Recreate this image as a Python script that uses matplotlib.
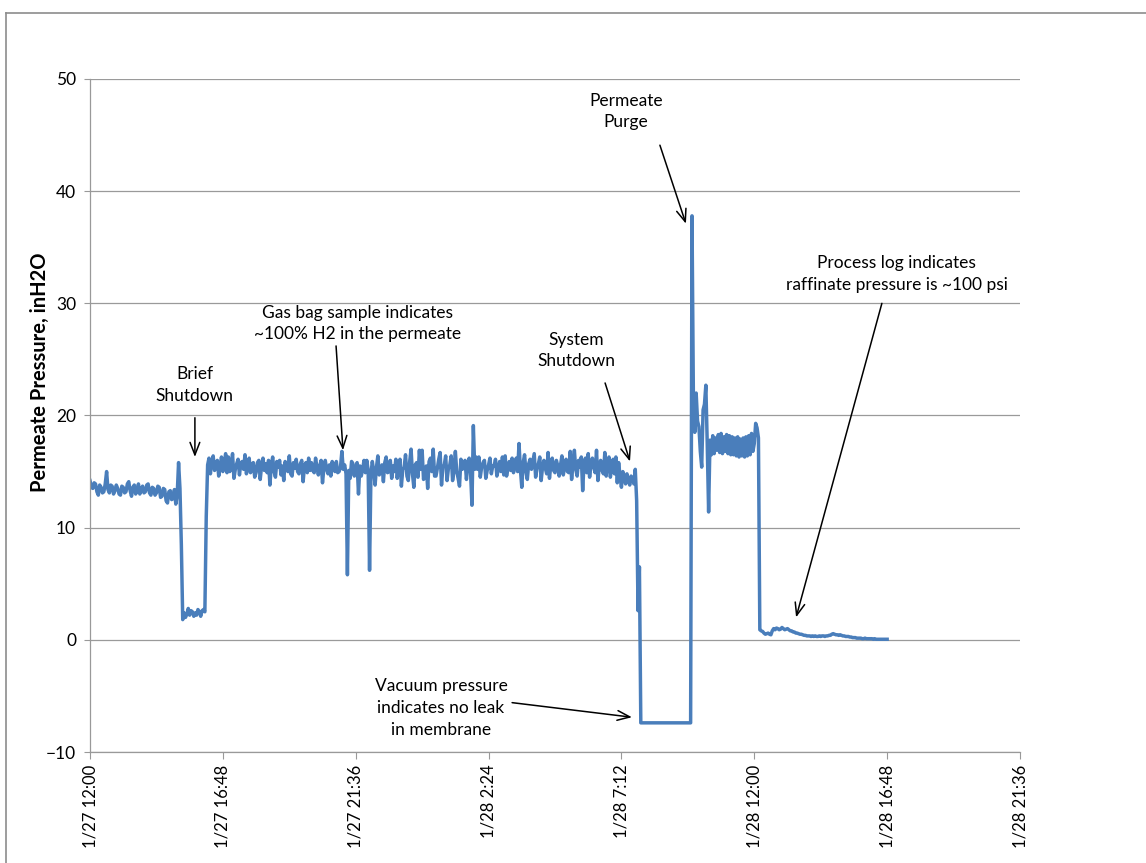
import matplotlib
matplotlib.use("Agg")
import matplotlib.pyplot as plt
from matplotlib.lines import Line2D
import pandas as pd

# permeate pressure (inH2O) logged every 3 minutes from 1/27 12:00, one row per hour
p_h00 = [14.2, 13.6, 13.5, 14.0, 13.9, 13.2, 12.9, 13.8, 13.6, 13.1, 13.2, 13.9, 15.0, 13.4, 13.1, 13.8, 13.7, 13.0, 13.3, 13.8]
p_h01 = [13.5, 13.0, 12.9, 13.7, 13.6, 13.1, 13.2, 13.9, 14.1, 13.3, 12.8, 13.6, 13.8, 13.0, 13.3, 13.9, 13.0, 13.4, 13.7, 13.1]
p_h02 = [13.2, 13.8, 13.9, 13.1, 12.9, 13.6, 13.5, 12.9, 13.1, 13.7, 13.6, 12.7, 12.8, 13.5, 13.4, 12.4, 12.2, 13.2, 13.3, 12.5]
p_h03 = [12.6, 13.4, 12.1, 12.9, 15.8, 13.5, 8.5, 1.8, 2.4, 2.0, 2.3, 2.8, 2.2, 2.6, 2.5, 2.1, 2.4, 2.2, 2.7, 2.5]
p_h04 = [2.1, 2.6, 2.7, 2.5, 11.0, 15.6, 16.2, 14.8, 15.9, 16.4, 15.1, 15.6, 16.0, 14.6, 15.4, 16.3, 15.0, 15.7, 16.6, 14.9]
p_h05 = [16.3, 15.0, 15.5, 16.6, 14.4, 15.2, 15.7, 16.1, 14.7, 15.8, 15.9, 15.2, 16.5, 14.8, 15.3, 16.2, 14.9, 15.6, 15.8, 14.5]
p_h06 = [14.9, 15.8, 16.0, 14.3, 15.5, 16.2, 15.1, 15.7, 14.9, 16.0, 13.8, 15.6, 16.3, 15.0, 14.5, 15.9, 15.4, 16.0, 14.7, 15.5]
p_h07 = [14.2, 15.9, 15.3, 15.0, 16.4, 14.8, 14.6, 15.8, 15.3, 16.1, 15.0, 14.8, 15.7, 16.0, 14.1, 15.5, 15.8, 14.9, 16.2, 15.1]
p_h08 = [15.8, 15.1, 14.9, 16.2, 15.4, 14.7, 15.5, 16.0, 14.0, 15.3, 16.0, 15.2, 14.8, 15.6, 14.6, 15.9, 15.3, 15.0, 15.9, 14.9]
p_h09 = [15.0, 15.4, 16.8, 15.2, 15.6, 14.8, 5.8, 15.1, 14.4, 15.9, 15.7, 14.6, 15.3, 15.8, 13.0, 15.5, 14.6, 15.2, 16.0, 14.9]
p_h10 = [16.0, 15.1, 6.2, 14.8, 15.9, 15.0, 13.8, 15.4, 16.4, 14.7, 15.1, 15.6, 14.1, 15.8, 16.3, 14.9, 15.0, 16.0, 14.4, 15.5]
p_h11 = [15.0, 16.1, 14.4, 15.5, 16.1, 13.7, 15.2, 15.4, 16.5, 14.6, 14.2, 15.9, 17.0, 14.8, 13.6, 15.6, 15.8, 14.5, 16.9, 15.2]
p_h12 = [16.9, 14.3, 14.8, 15.5, 13.5, 15.9, 16.2, 15.0, 17.0, 14.6, 14.6, 15.3, 16.1, 16.7, 13.8, 15.4, 15.6, 16.4, 14.2, 15.3]
p_h13 = [15.6, 16.4, 14.2, 15.1, 16.8, 15.0, 14.4, 13.7, 16.1, 15.2, 15.4, 16.0, 14.3, 15.6, 16.2, 14.9, 12.0, 19.1, 15.2, 16.3]
p_h14 = [15.2, 16.3, 14.5, 15.4, 15.8, 16.0, 14.4, 15.1, 15.6, 16.2, 14.8, 15.5, 15.5, 16.1, 14.6, 15.2, 15.9, 15.0, 16.3, 14.7]
p_h15 = [16.4, 14.6, 15.3, 15.9, 15.1, 16.2, 14.9, 15.6, 16.2, 15.0, 17.5, 15.2, 13.6, 15.8, 16.5, 15.0, 14.3, 15.7, 16.1, 15.2]
p_h16 = [15.9, 16.6, 14.5, 15.3, 15.7, 16.3, 14.2, 15.4, 16.0, 15.3, 14.8, 16.7, 14.4, 15.6, 16.2, 15.1, 14.9, 16.0, 15.5, 14.6]
p_h17 = [15.6, 16.4, 14.7, 15.5, 16.1, 15.0, 14.9, 16.8, 14.3, 15.7, 16.9, 15.2, 14.6, 16.0, 15.4, 16.3, 13.3, 15.8, 16.2, 14.9]
p_h18 = [16.6, 14.5, 15.6, 16.2, 15.4, 14.9, 16.9, 14.2, 15.5, 16.0, 15.1, 14.8, 16.7, 14.6, 15.7, 16.3, 14.5, 15.4, 16.1, 14.8]
p_h19 = [16.3, 14.0, 15.8, 14.6, 13.6, 15.0, 14.6, 13.9, 14.8, 14.2, 13.8, 14.6, 14.4, 13.9, 15.2, 12.4, 2.6, 6.5, -7.4, -7.4]
p_h20 = [-7.4, -7.4, -7.4, -7.4, -7.4, -7.4, -7.4, -7.4, -7.4, -7.4, -7.4, -7.4, -7.4, -7.4, -7.4, -7.4, -7.4, -7.4, -7.4, -7.4]
p_h21 = [-7.4, -7.4, -7.4, -7.4, -7.4, -7.4, -7.4, -7.4, -7.4, -7.4, -7.4, -7.4, -7.4, -7.4, -7.4, 37.8, 21.5, 18.5, 22.0, 19.5]
p_h22 = [19.0, 16.8, 15.4, 20.5, 21.0, 22.7, 17.5, 11.4, 17.8, 16.5, 18.2, 16.6, 18.0, 16.9, 18.3, 16.7, 18.4, 16.6, 18.1, 16.8]
p_h23 = [18.3, 16.6, 18.2, 16.5, 18.1, 16.5, 18.0, 16.4, 18.1, 16.3, 17.9, 16.4, 18.0, 16.3, 18.1, 16.4, 18.2, 16.5, 18.4, 16.8]
p_h24 = [17.5, 19.3, 18.9, 18.0, 0.9, 0.8, 0.75, 0.6, 0.5, 0.55, 0.6, 0.5, 0.45, 0.8, 1.0, 0.9, 1.05, 1.0, 0.9, 0.95]
p_h25 = [1.1, 1.0, 0.9, 0.95, 1.0, 0.9, 0.8, 0.8, 0.7, 0.7, 0.6, 0.6, 0.55, 0.5, 0.5, 0.45, 0.4, 0.4, 0.35, 0.35]
p_h26 = [0.35, 0.3, 0.35, 0.3, 0.35, 0.3, 0.3, 0.35, 0.3, 0.35, 0.35, 0.3, 0.35, 0.35, 0.4, 0.4, 0.5, 0.55, 0.5, 0.45]
p_h27 = [0.45, 0.4, 0.45, 0.4, 0.35, 0.35, 0.3, 0.3, 0.3, 0.25, 0.25, 0.2, 0.2, 0.2, 0.15, 0.15, 0.15, 0.15, 0.1, 0.1]
p_h28 = [0.15, 0.1, 0.1, 0.1, 0.1, 0.1, 0.05, 0.1, 0.05, 0.05, 0.05, 0.05, 0.05, 0.05, 0.05, 0.05, 0.05]

hours = [p_h00, p_h01, p_h02, p_h03, p_h04, p_h05, p_h06, p_h07, p_h08, p_h09,
         p_h10, p_h11, p_h12, p_h13, p_h14, p_h15, p_h16, p_h17, p_h18, p_h19,
         p_h20, p_h21, p_h22, p_h23, p_h24, p_h25, p_h26, p_h27, p_h28]
assert all(len(h) == 20 for h in hours[:-1])
pressure = [v for h in hours for v in h]

start = pd.Timestamp("2014-01-27 12:00")
times = pd.date_range(start, periods=len(pressure), freq="3min")
xticks = pd.date_range(start, "2014-01-28 21:36", freq="288min")
yticks = [-10, 0, 10, 20, 30, 40, 50]

# (label, text pos, arrow tail, arrow head) as (hours after start, inH2O)
notes = [
    ("Brief\nShutdown", (3.79, 22.7), (3.79, 19.8), (3.79, 16.3)),
    ("Gas bag sample indicates\n~100% H2 in the permeate", (9.68, 28.2), (8.89, 26.2), (9.14, 16.9)),
    ("System\nShutdown", (17.56, 25.8), (18.61, 22.9), (19.51, 15.9)),
    ("Permeate\nPurge", (19.36, 47.1), (20.59, 44.1), (21.53, 37.1)),
    ("Process log indicates\nraffinate pressure is ~100 psi", (29.15, 32.6), (28.61, 30.0), (25.51, 2.0)),
    ("Vacuum pressure\nindicates no leak\nin membrane", (12.68, -6.1), (15.25, -5.6), (19.58, -6.9)),
]

plt.rcParams["font.family"] = ["Lato", "DejaVu Sans"]

fig = plt.figure(figsize=(11.46, 8.63), dpi=100)
ax = fig.add_axes([90 / 1146, 1 - 752 / 863, 930 / 1146, 673 / 863])

ax.plot(times, pressure, color="#4A7EBB", lw=2.5, solid_joinstyle="round")

ax.set_xlim(xticks[0], xticks[-1])
ax.set_ylim(-10, 50)
ax.set_yticks(yticks)
ax.set_xticks(xticks)
ax.set_xticklabels([f"{d.month}/{d.day} {d.hour}:{d.minute:02d}" for d in xticks],
                   rotation=90, fontsize=12)
ax.tick_params(axis="y", labelsize=12.5, length=4, color="#999999", pad=6)
ax.tick_params(axis="x", length=5, color="#999999", pad=4)
ax.grid(axis="y", color="#9a9a9a", lw=0.9)
ax.set_axisbelow(True)
for s in ["top", "right"]:
    ax.spines[s].set_visible(False)
for s in ["left", "bottom"]:
    ax.spines[s].set_color("#999999")
    ax.spines[s].set_linewidth(0.9)

fig.text(40 / 1146, 1 - 372 / 863, "Permeate Pressure, inH2O", rotation=90,
         ha="center", va="center", fontsize=14.5, fontweight="bold")

for label, txt, tail, head in notes:
    tx = start + pd.Timedelta(hours=txt[0])
    ax.text(tx, txt[1], label, ha="center", va="center", fontsize=12.5, linespacing=1.45)
    ax.annotate("", xy=(start + pd.Timedelta(hours=head[0]), head[1]),
                xytext=(start + pd.Timedelta(hours=tail[0]), tail[1]),
                arrowprops=dict(arrowstyle="->,head_length=0.9,head_width=0.35",
                                color="black", lw=1.1, shrinkA=0, shrinkB=0))

# outer chart frame (cropped on right and bottom)
fig.add_artist(Line2D([6 / 1146, 6 / 1146], [0, 1 - 13 / 863], color="#8c8c8c", lw=1.2))
fig.add_artist(Line2D([6 / 1146, 1], [1 - 13 / 863, 1 - 13 / 863], color="#8c8c8c", lw=1.2))

fig.savefig("out.png", dpi=100)
